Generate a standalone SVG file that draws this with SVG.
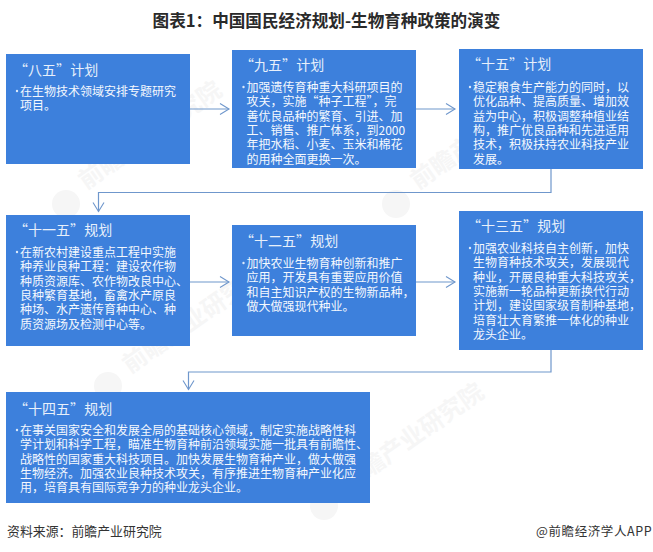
<svg xmlns="http://www.w3.org/2000/svg" width="653" height="552" viewBox="0 0 653 552">
<style>
text{font-family:"Noto Sans CJK SC","Liberation Sans",sans-serif}
.box{fill:#3d80dc}
.h{font-size:14px;fill:#e8f0fb;word-spacing:-3px}
.b{font-size:12px;fill:#f4f8fe}
.dot{fill:#dce9fa}
.c{fill:none;stroke:#6f97cc;stroke-width:1.2}
.wm{font-size:24px;font-weight:700;fill:#f6f6f6}
.wl{fill:#f6f6f6}
</style>
<defs>
<marker id="ar" markerUnits="userSpaceOnUse" markerWidth="12" markerHeight="14" refX="10" refY="6" orient="auto" viewBox="0 0 12 12"><path d="M1 0.5L10 6L1 11.5" fill="none" stroke="#6f97cc" stroke-width="1.1"/></marker>
</defs>
<rect width="653" height="552" fill="#fff"/>
<g id="watermarks">
<circle class="wl" cx="66" cy="204" r="14"/><text class="wm" transform="translate(86 190) rotate(-35)">前瞻产业研究院</text>
<circle class="wl" cx="396" cy="204" r="14"/><text class="wm" transform="translate(418 190) rotate(-35)">前瞻产业研究院</text>
<circle class="wl" cx="108" cy="386" r="14"/><text class="wm" transform="translate(130 374) rotate(-35)">前瞻产业研究院</text>
<circle class="wl" cx="324" cy="506" r="14"/><text class="wm" transform="translate(348 492) rotate(-35)">前瞻产业研究院</text>
</g>
<text x="326.500" y="27" text-anchor="middle" font-size="16.600" font-weight="700" fill="#2a2a2a">图表1：中国国民经济规划-生物育种政策的演变</text>
<g id="connectors">
<path class="c" marker-end="url(#ar)" d="M190 109H229"/>
<path class="c" marker-end="url(#ar)" d="M416 109H455"/>
<path class="c" marker-end="url(#ar)" d="M551 169V192.500H98.500V211.500"/>
<path class="c" marker-end="url(#ar)" d="M190 282H229"/>
<path class="c" marker-end="url(#ar)" d="M416 282H455"/>
<path class="c" marker-end="url(#ar)" d="M551 350V372H188.500V389.500"/>
</g>
<g id="n1"><rect class="box" x="6" y="54" width="184" height="110"/>
<text class="h" x="14" y="75">“八五” 计划</text>
<circle class="dot" cx="17" cy="91" r="1.200"/>
<text class="b"><tspan x="20" y="96">在生物技术领域安排专题研究</tspan><tspan x="20" y="110.300">项目。</tspan></text></g>
<g id="n2"><rect class="box" x="232" y="50" width="184" height="118"/>
<text class="h" x="240" y="70">“九五” 计划</text>
<circle class="dot" cx="243.500" cy="87" r="1.200"/>
<text class="b"><tspan x="246.500" y="92">加强遗传育种重大科研项目的</tspan><tspan x="246.500" y="106.300">攻关，实施“种子工程”，完</tspan><tspan x="246.500" y="120.600">善优良品种的繁育、引进、加</tspan><tspan x="246.500" y="134.900">工、销售、推广体系，到2000</tspan><tspan x="246.500" y="149.200">年把水稻、小麦、玉米和棉花</tspan><tspan x="246.500" y="163.500">的用种全面更换一次。</tspan></text></g>
<g id="n3"><rect class="box" x="459" y="49" width="184" height="120"/>
<text class="h" x="467" y="69">“十五” 计划</text>
<circle class="dot" cx="470" cy="87" r="1.200"/>
<text class="b"><tspan x="473" y="92">稳定粮食生产能力的同时，以</tspan><tspan x="473" y="106.300">优化品种、提高质量、增加效</tspan><tspan x="473" y="120.600">益为中心，积极调整种植业结</tspan><tspan x="473" y="134.900">构，推广优良品种和先进适用</tspan><tspan x="473" y="149.200">技术，积极扶持农业科技产业</tspan><tspan x="473" y="163.500">发展。</tspan></text></g>
<g id="n4"><rect class="box" x="6" y="215" width="184" height="131"/>
<text class="h" x="14" y="235">“十一五” 规划</text>
<circle class="dot" cx="17" cy="252" r="1.200"/>
<text class="b"><tspan x="20" y="257">在新农村建设重点工程中实施</tspan><tspan x="20" y="271.300">种养业良种工程：建设农作物</tspan><tspan x="20" y="285.600">种质资源库、农作物改良中心、</tspan><tspan x="20" y="299.900">良种繁育基地，畜禽水产原良</tspan><tspan x="20" y="314.200">种场、水产遗传育种中心、种</tspan><tspan x="20" y="328.500">质资源场及检测中心等。</tspan></text></g>
<g id="n5"><rect class="box" x="232" y="225" width="184" height="111"/>
<text class="h" x="240" y="246">“十二五” 规划</text>
<circle class="dot" cx="243.500" cy="263" r="1.200"/>
<text class="b"><tspan x="246.500" y="268">加快农业生物育种创新和推广</tspan><tspan x="246.500" y="282.300">应用，开发具有重要应用价值</tspan><tspan x="246.500" y="296.600">和自主知识产权的生物新品种，</tspan><tspan x="246.500" y="310.900">做大做强现代种业。</tspan></text></g>
<g id="n6"><rect class="box" x="459" y="211" width="184" height="139"/>
<text class="h" x="467" y="231">“十三五” 规划</text>
<circle class="dot" cx="470" cy="248" r="1.200"/>
<text class="b"><tspan x="473" y="253">加强农业科技自主创新，加快</tspan><tspan x="473" y="267.300">生物育种技术攻关，发展现代</tspan><tspan x="473" y="281.600">种业，开展良种重大科技攻关，</tspan><tspan x="473" y="295.900">实施新一轮品种更新换代行动</tspan><tspan x="473" y="310.200">计划，建设国家级育制种基地，</tspan><tspan x="473" y="324.500">培育壮大育繁推一体化的种业</tspan><tspan x="473" y="338.800">龙头企业。</tspan></text></g>
<g id="n7"><rect class="box" x="6" y="392" width="364" height="111"/>
<text class="h" x="14" y="414">“十四五” 规划</text>
<circle class="dot" cx="17" cy="430" r="1.200"/>
<text class="b"><tspan x="20" y="435">在事关国家安全和发展全局的基础核心领域，制定实施战略性科</tspan><tspan x="20" y="449.300">学计划和科学工程，瞄准生物育种前沿领域实施一批具有前瞻性、</tspan><tspan x="20" y="463.600">战略性的国家重大科技项目。加快发展生物育种产业，做大做强</tspan><tspan x="20" y="477.900">生物经济。加强农业良种技术攻关，有序推进生物育种产业化应</tspan><tspan x="20" y="492.200">用，培育具有国际竞争力的种业龙头企业。</tspan></text></g>
<text x="7" y="536" font-size="12.900" fill="#333">资料来源：前瞻产业研究院</text>
<text x="536" y="536" font-size="12.500" letter-spacing="0.600" fill="#333">@前瞻经济学人APP</text>
</svg>
